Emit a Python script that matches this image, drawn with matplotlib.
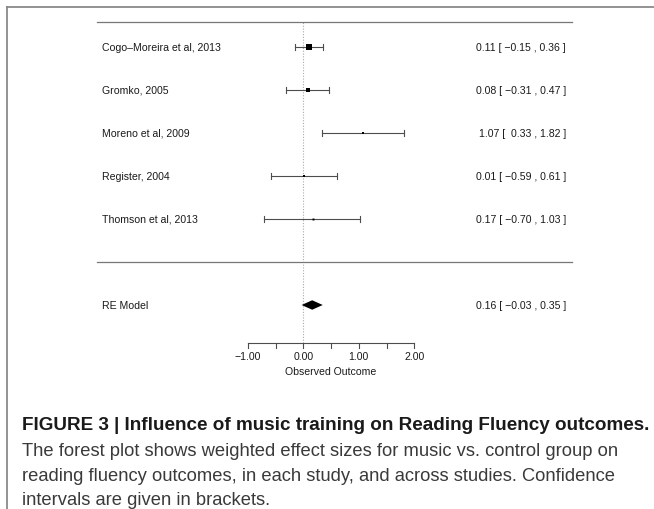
import numpy as np
import matplotlib
matplotlib.use("Agg")
import matplotlib.pyplot as plt

plt.rcParams['font.family'] = ['Liberation Sans', 'DejaVu Sans']

# study level effect sizes with 95% confidence limits
studies = ["Cogo\u2013Moreira et al, 2013", "Gromko, 2005", "Moreno et al, 2009",
           "Register, 2004", "Thomson et al, 2013"]
est = [0.11, 0.08, 1.07, 0.01, 0.17]
ci_lo = [-0.15, -0.31, 0.33, -0.59, -0.70]
ci_hi = [0.36, 0.47, 1.82, 0.61, 1.03]

# random effects summary
re_label = "RE Model"
re_est, re_lo, re_hi = 0.16, -0.03, 0.35

xticks = [-1.0, -0.5, 0.0, 0.5, 1.0, 1.5, 2.0]
xticklabels = ["\u22121.00", "", "0.00", "", "1.00", "", "2.00"]
xlabel = "Observed Outcome"

caption_title = "FIGURE 3 | Influence of music training on Reading Fluency outcomes."
caption_lines = [
    "The forest plot shows weighted effect sizes for music vs. control group on",
    "reading fluency outcomes, in each study, and across studies. Confidence",
    "intervals are given in brackets.",
]

W, H = 654, 510


def fmt(v):
    s = "%.2f" % abs(v)
    return ("\u2212" + s) if v < 0 else s


def ci_text(e, lo, hi):
    lo_s = fmt(lo) if lo < 0 else " " + fmt(lo)
    return "%s [ %s , %s ]" % (fmt(e), lo_s, fmt(hi))


fig = plt.figure(figsize=(W / 100, H / 100), dpi=100)
ax = fig.add_axes([0, 0, 1, 1])

# pixel layout -> data coordinates
x0_px, x_unit = 303.3, 55.5
row0_px, row_h = 48.0, 43.0
ax.set_xlim((0 - x0_px) / x_unit, (W - x0_px) / x_unit)
ax.set_ylim(5 - (H - row0_px) / row_h, 5 + row0_px / row_h)
ax.axis("off")


def dx(px):
    return (px - x0_px) / x_unit


k = len(studies)
rows = np.arange(k, 0, -1)
sep_row = 0
re_row = -1
top_row = 5 + (row0_px - 23) / row_h
axis_row = 5 - (343.5 - row0_px) / row_h

fs = 7.6
txt_col = "#1a1a1a"
line_col = "#4d4d4d"

# inverse-variance weights -> marker sizes
se = (np.array(ci_hi) - np.array(ci_lo)) / 3.92
wi = 1 / se ** 2
psize = wi / wi.sum()
psize = (psize - psize.min()) / (psize.max() - psize.min())
psize = psize * 1.0 + 0.5

# reference line at zero
ax.plot([0, 0], [axis_row, top_row], color="#aaaaaa", lw=0.8,
        ls=(0, (1, 1.5)), zorder=1)

# horizontal rules
ax.plot([dx(97), dx(572)], [top_row, top_row], color="#777777", lw=0.9)
ax.plot([dx(97), dx(572)], [sep_row, sep_row], color="#777777", lw=0.9)

cap = 0.07
for r, name, e, lo, hi, ps in zip(rows, studies, est, ci_lo, ci_hi, psize):
    ax.plot([lo, hi], [r, r], color=line_col, lw=0.8, zorder=2)
    ax.plot([lo, lo], [r - cap, r + cap], color=line_col, lw=0.8, zorder=2)
    ax.plot([hi, hi], [r - cap, r + cap], color=line_col, lw=0.8, zorder=2)
    ax.plot(e, r, marker="s", ms=2.8 * ps, color="black", mew=0, zorder=3)
    ax.text(dx(102), r, name, ha="left", va="center", fontsize=fs, color=txt_col)
    ax.text(dx(566), r, ci_text(e, lo, hi), ha="right", va="center",
            fontsize=fs, color=txt_col)

# summary diamond
dh = 0.11
ax.fill([re_lo, re_est, re_hi, re_est], [re_row, re_row + dh, re_row, re_row - dh],
        color="black", lw=0, zorder=3)
ax.text(dx(102), re_row, re_label, ha="left", va="center", fontsize=fs, color=txt_col)
ax.text(dx(566), re_row, ci_text(re_est, re_lo, re_hi), ha="right", va="center",
        fontsize=fs, color=txt_col)

# x axis drawn by hand, R style
tick_len = 5.0 / row_h
ax.plot([xticks[0], xticks[-1]], [axis_row, axis_row], color=line_col, lw=0.8)
for t, lab in zip(xticks, xticklabels):
    ax.plot([t, t], [axis_row, axis_row - tick_len], color=line_col, lw=0.8)
    if lab:
        ax.text(t, axis_row - 13.5 / row_h, lab, ha="center", va="center",
                fontsize=fs, color=txt_col)
ax.text(0.5, axis_row - 28.5 / row_h, xlabel, ha="center", va="center",
        fontsize=fs, color=txt_col)

# frame around figure + caption
frame_col = "#8a8a8a"
fig.add_artist(plt.Line2D([7 / W, 1], [1 - 8 / H, 1 - 8 / H], color=frame_col, lw=1.3))
fig.add_artist(plt.Line2D([7 / W, 7 / W], [0, 1 - 8 / H], color=frame_col, lw=1.3))

renderer = fig.canvas.get_renderer()


def fit_text(y_px, s, target_px, weight, color):
    t = fig.text(22 / W, 1 - y_px / H, s, ha="left", va="center", fontsize=12,
                 fontweight=weight, color=color)
    w = t.get_window_extent(renderer).width
    t.set_fontsize(12 * target_px / w)
    return t.get_fontsize()


fit_text(426, caption_title, 626, "bold", "#1a1a1a")
cap_fs = fit_text(452, caption_lines[0], 598, "normal", "#3a3a3a")
for i, line in enumerate(caption_lines[1:]):
    fig.text(22 / W, 1 - (476.5 + 24.5 * i) / H, line, ha="left", va="center",
             fontsize=cap_fs, color="#3a3a3a")

fig.savefig("out.png", dpi=100)
